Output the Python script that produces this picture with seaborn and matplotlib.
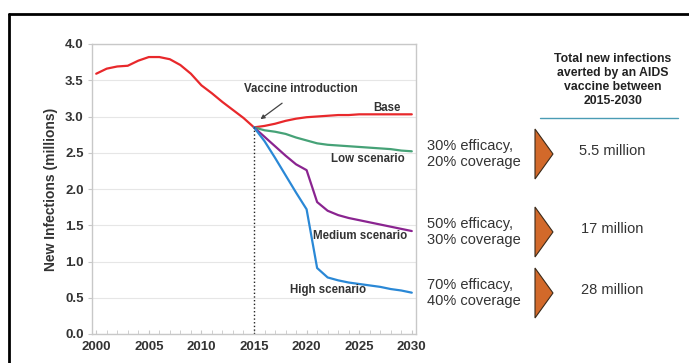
import pandas as pd
import matplotlib.pyplot as plt
import seaborn as sns
from matplotlib.patches import Polygon
from matplotlib.lines import Line2D

hist_years = list(range(2000, 2016))
hist = [3.59, 3.66, 3.69, 3.70, 3.77, 3.82, 3.82, 3.79, 3.71, 3.59, 3.43, 3.32, 3.20, 3.09, 2.98, 2.85]

scen_years = list(range(2015, 2031))
base = [2.85, 2.87, 2.90, 2.94, 2.97, 2.99, 3.00, 3.01, 3.02, 3.02, 3.03, 3.03, 3.03, 3.03, 3.03, 3.03]
low = [2.85, 2.81, 2.79, 2.76, 2.71, 2.67, 2.63, 2.61, 2.60, 2.59, 2.58, 2.57, 2.56, 2.55, 2.53, 2.52]
medium = [2.85, 2.72, 2.59, 2.46, 2.34, 2.26, 1.82, 1.70, 1.64, 1.60, 1.57, 1.54, 1.51, 1.48, 1.45, 1.42]
high = [2.85, 2.66, 2.43, 2.19, 1.95, 1.72, 0.91, 0.78, 0.74, 0.71, 0.69, 0.67, 0.65, 0.62, 0.60, 0.57]

scen_labels = ["Base", "Low scenario", "Medium scenario", "High scenario"]
colors = {"History": "#e8282b", "Base": "#e8282b", "Low scenario": "#46a277",
          "Medium scenario": "#8a2490", "High scenario": "#2a88d6"}

efficacy = ["30% efficacy,\n20% coverage", "50% efficacy,\n30% coverage", "70% efficacy,\n40% coverage"]
averted = ["5.5 million", "17 million", "28 million"]

rows = [("History", y, v) for y, v in zip(hist_years, hist)]
for name, vals in zip(scen_labels, [base, low, medium, high]):
    rows += [(name, y, v) for y, v in zip(scen_years, vals)]
df = pd.DataFrame(rows, columns=["series", "year", "value"])

sns.set_style("white")
plt.rcParams['font.family'] = ['Liberation Sans', 'DejaVu Sans']

W, H = 689, 363
fig = plt.figure(figsize=(W / 100, H / 100), dpi=100)
ax = fig.add_axes([92 / W, 1 - 334 / H, 324 / W, 290 / H])

sns.lineplot(data=df, x="year", y="value", hue="series", palette=colors,
             linewidth=1.6, legend=False, ax=ax, sort=False)

ax.set_xlim(1999.6, 2030.4)
ax.set_ylim(0, 4.0)
ax.set_xticks(range(2000, 2031, 5))
ax.set_xticks(range(2000, 2031), minor=True)
ax.set_yticks([i * 0.5 for i in range(9)])
ax.set_yticklabels([f"{i * 0.5:.1f}" for i in range(9)])
ax.grid(axis="y", color="#e6e6e6", linewidth=0.8)
ax.set_axisbelow(True)
for s in ax.spines.values():
    s.set_color("#c8c8c8")
    s.set_linewidth(1.0)
ax.tick_params(axis="y", which="major", left=True, length=3, color="#c8c8c8",
               labelsize=9.5, labelcolor="#333333", pad=3)
ax.tick_params(axis="x", which="both", bottom=True, direction="in", length=3,
               color="#c8c8c8", labelsize=9.5, labelcolor="#333333", pad=5)
for lbl in ax.get_xticklabels() + ax.get_yticklabels():
    lbl.set_fontweight("bold")
ax.set_xlabel("")
ax.set_ylabel("New Infections (millions)", fontsize=10, fontweight="bold",
              color="#333333", labelpad=5)

# vaccine introduction marker
ax.plot([2015, 2015], [0, 2.85], color="#222222", linestyle=":", linewidth=1.0)
ax.annotate("Vaccine introduction", xy=(2015.4, 2.94), xytext=(2019.5, 3.38),
            ha="center", va="center", fontsize=8.3, fontweight="bold", color="#333333",
            arrowprops=dict(arrowstyle="-|>", color="#444444", lw=0.9,
                            mutation_scale=6, shrinkA=6))

label_pos = {"Base": (2027.6, 3.12), "Low scenario": (2025.8, 2.41),
             "Medium scenario": (2025.1, 1.35), "High scenario": (2022.0, 0.61)}
for name in scen_labels:
    x, y = label_pos[name]
    ax.text(x, y, name, ha="center", va="center", fontsize=8.3,
            fontweight="bold", color="#333333")

# right-hand panel
fig.text(613 / W, 1 - 80 / H, "Total new infections\naverted by an AIDS\nvaccine between\n2015-2030",
         ha="center", va="center", fontsize=8.8, fontweight="bold", color="#222222",
         linespacing=1.2)
fig.add_artist(Line2D([540 / W, 678 / W], [1 - 118 / H, 1 - 118 / H],
                      color="#4a9cb4", linewidth=1.0))

block_y = [154, 232, 293]
for i, yc in enumerate(block_y):
    fig.text(427 / W, 1 - yc / H, efficacy[i], ha="left", va="center",
             fontsize=10.5, color="#333333", linespacing=1.25)
    tri = Polygon([[535 / W, 1 - (yc - 25) / H], [535 / W, 1 - (yc + 25) / H],
                   [553 / W, 1 - yc / H]], closed=True, transform=fig.transFigure,
                  facecolor="#d2692a", edgecolor="#3a2a1a", linewidth=0.8)
    fig.add_artist(tri)
    fig.text(612 / W, 1 - (yc - 3) / H, averted[i], ha="center", va="center",
             fontsize=10.5, color="#333333")

# black frame (top and left edges)
fig.add_artist(Line2D([9 / W, 1], [1 - 14 / H, 1 - 14 / H], color="black", linewidth=2))
fig.add_artist(Line2D([9 / W, 9 / W], [0, 1 - 14 / H], color="black", linewidth=2))

fig.savefig("out.png", dpi=100)
